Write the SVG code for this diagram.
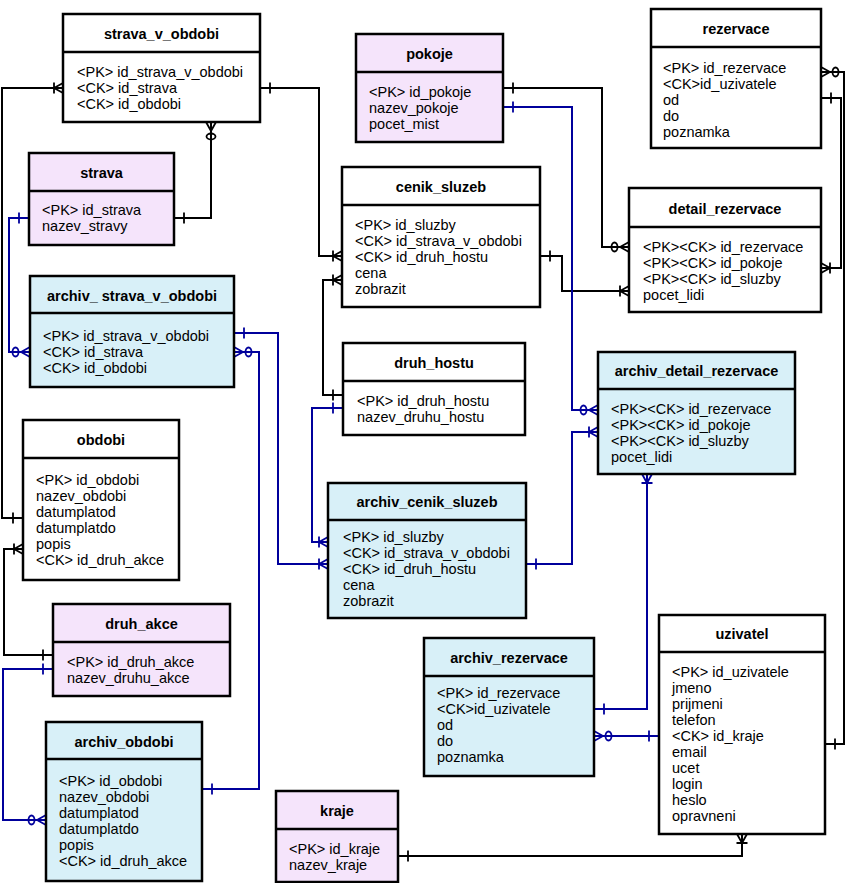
<svg xmlns="http://www.w3.org/2000/svg" width="846" height="883" viewBox="0 0 846 883">
<style>
  .box { stroke: #000; stroke-width: 2.5; }
  .w { fill: #ffffff; }
  .p { fill: #f5e4fb; }
  .b { fill: #d8f0f8; }
  .div { stroke: #000; stroke-width: 2.5; }
  .t { font-family: "Liberation Sans", Arial, sans-serif; font-size: 14.5px; font-weight: bold; fill: #000; text-anchor: middle; }
  .r { font-family: "Liberation Sans", Arial, sans-serif; font-size: 14.5px; fill: #000; }
  .k { fill: none; stroke: #000; stroke-width: 2; }
  .n { fill: none; stroke: #00009c; stroke-width: 2; }
  .mk { fill: none; stroke: #000; stroke-width: 1.8; }
  .mn { fill: none; stroke: #00009c; stroke-width: 1.8; }
</style>
<defs>
  <marker id="kOne" viewBox="-20 -8 24 16" refX="0" refY="0" markerWidth="24" markerHeight="16" markerUnits="userSpaceOnUse" orient="auto-start-reverse" overflow="visible">
    <path class="mk" d="M-10,-5.5 L-10,5.5"/>
  </marker>
  <marker id="kOM" viewBox="-20 -8 24 16" refX="0" refY="0" markerWidth="24" markerHeight="16" markerUnits="userSpaceOnUse" orient="auto-start-reverse" overflow="visible">
    <path class="mk" d="M-9,0 L0,-5 M-9,0 L0,5 M-9,-5.5 L-9,5.5"/>
  </marker>
  <marker id="kZM" viewBox="-20 -8 24 16" refX="0" refY="0" markerWidth="24" markerHeight="16" markerUnits="userSpaceOnUse" orient="auto-start-reverse" overflow="visible">
    <path class="mk" d="M-9,0 L0,-5 M-9,0 L0,5"/>
    <ellipse class="mk" cx="-14.5" cy="0" rx="3" ry="4.5"/>
  </marker>
  <marker id="nOne" viewBox="-20 -8 24 16" refX="0" refY="0" markerWidth="24" markerHeight="16" markerUnits="userSpaceOnUse" orient="auto-start-reverse" overflow="visible">
    <path class="mn" d="M-10,-5.5 L-10,5.5"/>
  </marker>
  <marker id="nOM" viewBox="-20 -8 24 16" refX="0" refY="0" markerWidth="24" markerHeight="16" markerUnits="userSpaceOnUse" orient="auto-start-reverse" overflow="visible">
    <path class="mn" d="M-9,0 L0,-5 M-9,0 L0,5 M-9,-5.5 L-9,5.5"/>
  </marker>
  <marker id="nZM" viewBox="-20 -8 24 16" refX="0" refY="0" markerWidth="24" markerHeight="16" markerUnits="userSpaceOnUse" orient="auto-start-reverse" overflow="visible">
    <path class="mn" d="M-9,0 L0,-5 M-9,0 L0,5"/>
    <ellipse class="mn" cx="-14.5" cy="0" rx="3" ry="4.5"/>
  </marker>
</defs>
<rect x="0" y="0" width="846" height="883" fill="#ffffff"/>

<g id="connectors">
  <!-- black -->
  <path class="k" d="M260,88 L319,88 L319,256 L342,256" marker-start="url(#kOne)" marker-end="url(#kOM)"/>
  <path class="k" d="M343,395 L323,395 L323,280 L342,280" marker-start="url(#kOne)" marker-end="url(#kOM)"/>
  <path class="k" d="M174,218 L211,218 L211,122" marker-start="url(#kOne)" marker-end="url(#kZM)"/>
  <path class="k" d="M23,518 L2,518 L2,88 L63,88" marker-start="url(#kOne)" marker-end="url(#kOM)"/>
  <path class="k" d="M53,655 L4,655 L4,549 L23,549" marker-start="url(#kOne)" marker-end="url(#kOM)"/>
  <path class="k" d="M503,88 L602,88 L602,247 L629,247" marker-start="url(#kOne)" marker-end="url(#kZM)"/>
  <path class="k" d="M540,256 L562,256 L562,291 L629,291" marker-start="url(#kOne)" marker-end="url(#kOM)"/>
  <path class="k" d="M821,98 L841,98 L841,268 L821,268" marker-start="url(#kOne)" marker-end="url(#kOM)"/>
  <path class="k" d="M825,744 L844,744 L844,72 L821,72" marker-start="url(#kOne)" marker-end="url(#kZM)"/>
  <path class="k" d="M398,856 L742,856 L742,834" marker-start="url(#kOne)" marker-end="url(#kOM)"/>
  <!-- blue -->
  <path class="n" d="M29,218 L9,218 L9,352 L30,352" marker-start="url(#nOne)" marker-end="url(#nZM)"/>
  <path class="n" d="M234,333 L278,333 L278,564 L328,564" marker-start="url(#nOne)" marker-end="url(#nOM)"/>
  <path class="n" d="M202,789 L259,789 L259,352 L234,352" marker-start="url(#nOne)" marker-end="url(#nZM)"/>
  <path class="n" d="M53,669 L3,669 L3,820 L46,820" marker-start="url(#nOne)" marker-end="url(#nZM)"/>
  <path class="n" d="M343,408 L312,408 L312,542 L328,542" marker-start="url(#nOne)" marker-end="url(#nOM)"/>
  <path class="n" d="M503,107 L572,107 L572,410 L598,410" marker-start="url(#nOne)" marker-end="url(#nZM)"/>
  <path class="n" d="M526,564 L572,564 L572,432 L598,432" marker-start="url(#nOne)" marker-end="url(#nOM)"/>
  <path class="n" d="M594,709 L647,709 L647,474" marker-start="url(#nOne)" marker-end="url(#nOM)"/>
  <path class="n" d="M659,736 L594,736" marker-start="url(#nOne)" marker-end="url(#nZM)"/>
</g>

<g id="strava_v_obdobi">
  <rect class="box w" x="63" y="14" width="197" height="108"/>
  <line class="div" x1="63" y1="52" x2="260" y2="52"/>
  <text class="t" x="161.5" y="39">strava_v_obdobi</text>
  <text class="r" x="77" y="77">&lt;PK&gt; id_strava_v_obdobi<tspan x="77" dy="16">&lt;CK&gt; id_strava</tspan><tspan x="77" dy="16">&lt;CK&gt; id_obdobi</tspan></text>
</g>

<g id="strava">
  <rect class="box p" x="29" y="153" width="145" height="92"/>
  <line class="div" x1="29" y1="191" x2="174" y2="191"/>
  <text class="t" x="101.5" y="178">strava</text>
  <text class="r" x="42" y="215">&lt;PK&gt; id_strava<tspan x="42" dy="16">nazev_stravy</tspan></text>
</g>

<g id="pokoje">
  <rect class="box p" x="356" y="34" width="147" height="108"/>
  <line class="div" x1="356" y1="72" x2="503" y2="72"/>
  <text class="t" x="429.5" y="59">pokoje</text>
  <text class="r" x="369" y="97">&lt;PK&gt; id_pokoje<tspan x="369" dy="16">nazev_pokoje</tspan><tspan x="369" dy="16">pocet_mist</tspan></text>
</g>

<g id="cenik_sluzeb">
  <rect class="box w" x="342" y="167" width="198" height="140"/>
  <line class="div" x1="342" y1="205" x2="540" y2="205"/>
  <text class="t" x="441" y="192">cenik_sluzeb</text>
  <text class="r" x="355" y="230">&lt;PK&gt; id_sluzby<tspan x="355" dy="16">&lt;CK&gt; id_strava_v_obdobi</tspan><tspan x="355" dy="16">&lt;CK&gt; id_druh_hostu</tspan><tspan x="355" dy="16">cena</tspan><tspan x="355" dy="16">zobrazit</tspan></text>
</g>

<g id="rezervace">
  <rect class="box w" x="651" y="9" width="170" height="139"/>
  <line class="div" x1="651" y1="47" x2="821" y2="47"/>
  <text class="t" x="736" y="34">rezervace</text>
  <text class="r" x="663" y="73">&lt;PK&gt; id_rezervace<tspan x="663" dy="16">&lt;CK&gt;id_uzivatele</tspan><tspan x="663" dy="16">od</tspan><tspan x="663" dy="16">do</tspan><tspan x="663" dy="16">poznamka</tspan></text>
</g>

<g id="detail_rezervace">
  <rect class="box w" x="629" y="188" width="192" height="124"/>
  <line class="div" x1="629" y1="227" x2="821" y2="227"/>
  <text class="t" x="725" y="214">detail_rezervace</text>
  <text class="r" x="643" y="252">&lt;PK&gt;&lt;CK&gt; id_rezervace<tspan x="643" dy="16">&lt;PK&gt;&lt;CK&gt; id_pokoje</tspan><tspan x="643" dy="16">&lt;PK&gt;&lt;CK&gt; id_sluzby</tspan><tspan x="643" dy="16">pocet_lidi</tspan></text>
</g>

<g id="archiv_strava_v_obdobi">
  <rect class="box b" x="30" y="276" width="204" height="111"/>
  <line class="div" x1="30" y1="313" x2="234" y2="313"/>
  <text class="t" x="132" y="301">archiv_ strava_v_obdobi</text>
  <text class="r" x="43" y="341">&lt;PK&gt; id_strava_v_obdobi<tspan x="43" dy="16">&lt;CK&gt; id_strava</tspan><tspan x="43" dy="16">&lt;CK&gt; id_obdobi</tspan></text>
</g>

<g id="obdobi">
  <rect class="box w" x="23" y="420" width="156" height="160"/>
  <line class="div" x1="23" y1="458" x2="179" y2="458"/>
  <text class="t" x="101" y="445">obdobi</text>
  <text class="r" x="36" y="485">&lt;PK&gt; id_obdobi<tspan x="36" dy="16">nazev_obdobi</tspan><tspan x="36" dy="16">datumplatod</tspan><tspan x="36" dy="16">datumplatdo</tspan><tspan x="36" dy="16">popis</tspan><tspan x="36" dy="16">&lt;CK&gt; id_druh_akce</tspan></text>
</g>

<g id="druh_akce">
  <rect class="box p" x="53" y="604" width="177" height="92"/>
  <line class="div" x1="53" y1="642" x2="230" y2="642"/>
  <text class="t" x="141.5" y="629">druh_akce</text>
  <text class="r" x="67" y="667">&lt;PK&gt; id_druh_akce<tspan x="67" dy="16">nazev_druhu_akce</tspan></text>
</g>

<g id="archiv_obdobi">
  <rect class="box b" x="46" y="722" width="156" height="159"/>
  <line class="div" x1="46" y1="759" x2="202" y2="759"/>
  <text class="t" x="124" y="747">archiv_obdobi</text>
  <text class="r" x="59" y="786">&lt;PK&gt; id_obdobi<tspan x="59" dy="16">nazev_obdobi</tspan><tspan x="59" dy="16">datumplatod</tspan><tspan x="59" dy="16">datumplatdo</tspan><tspan x="59" dy="16">popis</tspan><tspan x="59" dy="16">&lt;CK&gt; id_druh_akce</tspan></text>
</g>

<g id="druh_hostu">
  <rect class="box w" x="343" y="343" width="182" height="92"/>
  <line class="div" x1="343" y1="381" x2="525" y2="381"/>
  <text class="t" x="434" y="368">druh_hostu</text>
  <text class="r" x="357" y="406">&lt;PK&gt; id_druh_hostu<tspan x="357" dy="16">nazev_druhu_hostu</tspan></text>
</g>

<g id="archiv_cenik_sluzeb">
  <rect class="box b" x="328" y="483" width="198" height="135"/>
  <line class="div" x1="328" y1="520" x2="526" y2="520"/>
  <text class="t" x="427" y="507">archiv_cenik_sluzeb</text>
  <text class="r" x="343" y="542">&lt;PK&gt; id_sluzby<tspan x="343" dy="16">&lt;CK&gt; id_strava_v_obdobi</tspan><tspan x="343" dy="16">&lt;CK&gt; id_druh_hostu</tspan><tspan x="343" dy="16">cena</tspan><tspan x="343" dy="16">zobrazit</tspan></text>
</g>

<g id="archiv_detail_rezervace">
  <rect class="box b" x="598" y="352" width="197" height="122"/>
  <line class="div" x1="598" y1="389" x2="795" y2="389"/>
  <text class="t" x="696.5" y="376">archiv_detail_rezervace</text>
  <text class="r" x="611" y="414">&lt;PK&gt;&lt;CK&gt; id_rezervace<tspan x="611" dy="16">&lt;PK&gt;&lt;CK&gt; id_pokoje</tspan><tspan x="611" dy="16">&lt;PK&gt;&lt;CK&gt; id_sluzby</tspan><tspan x="611" dy="16">pocet_lidi</tspan></text>
</g>

<g id="archiv_rezervace">
  <rect class="box b" x="424" y="638" width="170" height="138"/>
  <line class="div" x1="424" y1="676" x2="594" y2="676"/>
  <text class="t" x="509" y="663">archiv_rezervace</text>
  <text class="r" x="437" y="698">&lt;PK&gt; id_rezervace<tspan x="437" dy="16">&lt;CK&gt;id_uzivatele</tspan><tspan x="437" dy="16">od</tspan><tspan x="437" dy="16">do</tspan><tspan x="437" dy="16">poznamka</tspan></text>
</g>

<g id="kraje">
  <rect class="box p" x="276" y="791" width="122" height="91"/>
  <line class="div" x1="276" y1="829" x2="398" y2="829"/>
  <text class="t" x="337" y="816">kraje</text>
  <text class="r" x="289" y="854">&lt;PK&gt; id_kraje<tspan x="289" dy="16">nazev_kraje</tspan></text>
</g>

<g id="uzivatel">
  <rect class="box w" x="659" y="615" width="166" height="219"/>
  <line class="div" x1="659" y1="652" x2="825" y2="652"/>
  <text class="t" x="742" y="639">uzivatel</text>
  <text class="r" x="672" y="677">&lt;PK&gt; id_uzivatele<tspan x="672" dy="16">jmeno</tspan><tspan x="672" dy="16">prijmeni</tspan><tspan x="672" dy="16">telefon</tspan><tspan x="672" dy="16">&lt;CK&gt; id_kraje</tspan><tspan x="672" dy="16">email</tspan><tspan x="672" dy="16">ucet</tspan><tspan x="672" dy="16">login</tspan><tspan x="672" dy="16">heslo</tspan><tspan x="672" dy="16">opravneni</tspan></text>
</g>
</svg>
